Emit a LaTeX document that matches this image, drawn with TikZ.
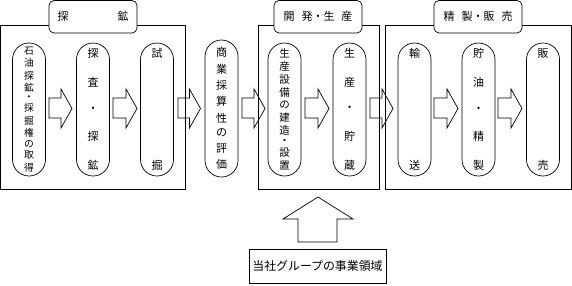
\documentclass[tikz,border=0pt]{standalone}
\usepackage{fontspec}
\setmainfont{Noto Sans CJK JP}
\usetikzlibrary{calc}
\newcommand\vf{\par\vfill}
\newcommand\vstk[2][121pt]{\parbox[c][#1][s]{16pt}{\baselineskip=0pt\lineskip=0pt\lineskiplimit=0pt\centering #2\par}}
\newcommand\blockarr[2]{\draw[ln] (#1,98) -- ({#2-11},98) -- ({#2-11},89) -- (#2,108.5) -- ({#2-11},128) -- ({#2-11},118) -- (#1,118) -- cycle;}
\tikzset{
  ln/.style={draw=black, line width=0.7pt},
  pill/.style={ln, rounded corners=16.5pt, minimum width=33pt, minimum height=133pt, inner sep=0pt, font=\fontsize{11}{11}\selectfont},
  hdr/.style={ln, fill=white, rounded corners=5pt, minimum width=88pt, minimum height=32.5pt, inner sep=0pt, font=\fontsize{11}{11}\selectfont},
  frame/.style={ln},
}
\begin{document}
\begin{tikzpicture}[x=1pt,y=-1pt]
\useasboundingbox (0,0) rectangle (572,285);
% frames
\draw[frame] (0.5,25.5) rectangle (185,189);
\draw[frame] (258,25.5) rectangle (379,189);
\draw[frame] (385,25.5) rectangle (571.3,189);
% headers
\node[hdr] (h1) at (93,16.75) {探\hspace{49pt}鉱};
\node[hdr] (h2) at (318,16.75) {開\hspace{7pt}発・生\hspace{7pt}産};
\node[hdr] (h3) at (478,16.75) {精\hspace{7pt}製・販\hspace{7pt}売};
% pills
\node[pill, font=\fontsize{9.8}{9.8}\selectfont] (p1) at (29,109.5) {\vstk[124pt]{石\vf 油\vf 探\vf 鉱\vf ・\vf 採\vf 掘\vf 権\vf の\vf 取\vf 得}};
\node[pill] (p2) at (93,109.5) {\vstk{探\vf 査\vf ・\vf 探\vf 鉱}};
\node[pill] (p3) at (157,109.5) {\vstk{試\vf 掘}};
\node[pill, minimum height=137pt] (p4) at (221.5,108.5) {\vstk{商\vf 業\vf 採\vf 算\vf 性\vf の\vf 評\vf 価}};
\node[pill, font=\fontsize{10.5}{10.5}\selectfont] (p5) at (284.5,109.5) {\vstk{生\vf 産\vf 設\vf 備\vf の\vf 建\vf 造\vf ・\vf 設\vf 置}};
\node[pill] (p6) at (349.5,109.5) {\vstk{生\vf 産\vf ・\vf 貯\vf 蔵}};
\node[pill] (p7) at (414.5,109.5) {\vstk{輸\vf 送}};
\node[pill] (p8) at (478.5,109.5) {\vstk{貯\vf 油\vf ・\vf 精\vf 製}};
\node[pill] (p9) at (543,109.5) {\vstk{販\vf 売}};
% block arrows
\blockarr{49}{72}
\blockarr{113}{137}
\blockarr{178}{200.5}
\blockarr{242}{265}
\blockarr{305}{329}
\blockarr{370}{393}
\blockarr{434}{458}
\blockarr{498}{522}
% bottom box and up arrow
\node[ln, minimum width=137pt, minimum height=34pt, inner sep=0pt, font=\fontsize{11.9}{11.9}\selectfont] (b) at (317.5,266) {当社グループの事業領域};
\draw[ln] (298,242) -- (298,219) -- (283,219) -- (318,197) -- (353,219) -- (337,219) -- (337,242) -- cycle;
\end{tikzpicture}
\end{document}
